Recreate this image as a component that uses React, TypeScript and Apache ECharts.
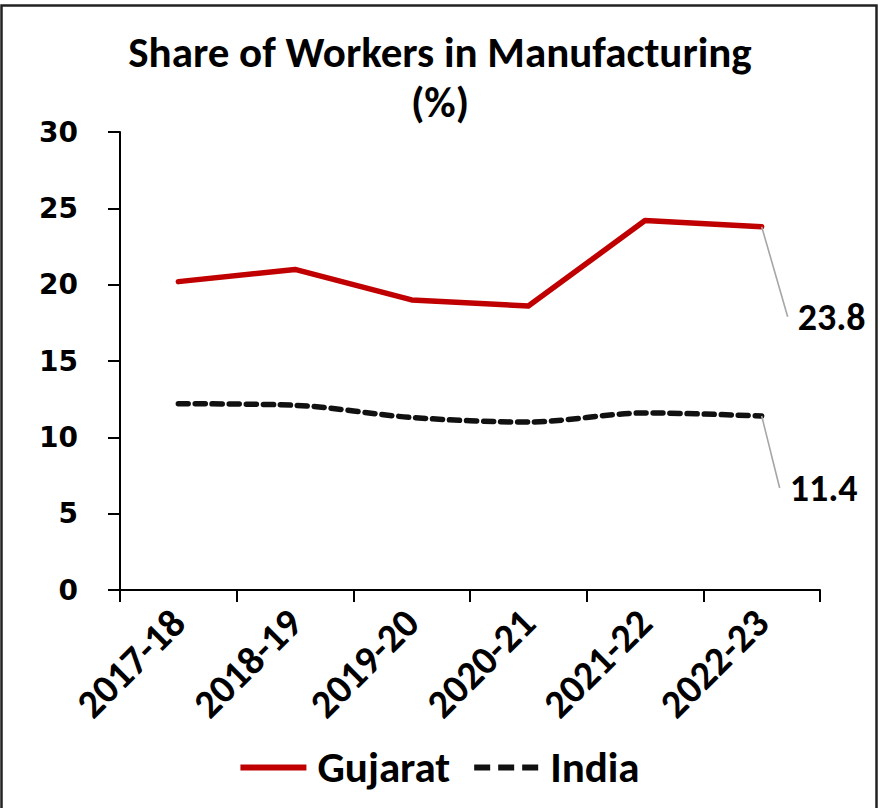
import React, { useEffect, useRef } from "react";
import * as echarts from "echarts";

const categories = ["2017-18", "2018-19", "2019-20", "2020-21", "2021-22", "2022-23"];
const gujarat = [20.2, 21.0, 19.0, 18.6, 24.2, 23.8];
const india = [12.2, 12.1, 11.3, 11.0, 11.6, 11.4];
const yTicks = { min: 0, max: 30, interval: 5 };

const FONT = "Carlito, Calibri, Lato, 'Open Sans', sans-serif";
const NUMFONT = "'DejaVu Sans', Verdana, sans-serif";

const lastIdx = categories.length - 1;

function endLabelSeries(name: string, values: number[], dx: number, dy: number) {
  return {
    name: name + " label",
    type: "scatter",
    symbol: "circle",
    symbolSize: 0,
    silent: true,
    itemStyle: { opacity: 1, color: "#000" },
    data: [[categories[lastIdx], values[lastIdx]]],
    label: {
      show: true,
      position: "right",
      distance: 0,
      padding: [0, 34, 0, 10],
      backgroundColor: "rgba(255,255,255,0)",
      formatter: (p: any) => Number(p.value[1]).toFixed(1),
      fontFamily: FONT,
      fontWeight: "bold",
      fontSize: 38,
      color: "#000",
      opacity: 1,
    },
    labelLine: { show: true, length2: 12, lineStyle: { color: "#A6A6A6", width: 1.6, opacity: 1 } },
    labelLayout: { dx, dy },
    z: 5,
  };
}

export default function App() {
  const ref = useRef<HTMLDivElement>(null);
  useEffect(() => {
    const chart = echarts.init(ref.current!, undefined, { renderer: "svg" });
    chart.setOption({
      animation: false,
      backgroundColor: "#fff",
      title: {
        text: "Share of Workers in Manufacturing\n(%)",
        left: "center",
        top: 22,
        textStyle: {
          fontFamily: FONT,
          fontWeight: "bold",
          fontSize: 43,
          lineHeight: 50,
          color: "#000",
        },
      },
      graphic: [
        {
          type: "rect",
          shape: { x: 1.5, y: 5.5, width: 875, height: 810 },
          style: { fill: "none", stroke: "#222", lineWidth: 2.5 },
          silent: true,
        },
      ],
      grid: { left: 120, right: 60, top: 132, bottom: 218 },
      xAxis: {
        type: "category",
        data: categories,
        boundaryGap: true,
        axisLine: { lineStyle: { color: "#000", width: 2 } },
        axisTick: { show: true, length: 12, inside: false, lineStyle: { color: "#000", width: 2 } },
        axisLabel: {
          rotate: 45,
          margin: 26,
          fontFamily: FONT,
          fontWeight: "bold",
          fontSize: 40,
          color: "#000",
        },
        splitLine: { show: false },
      },
      yAxis: {
        type: "value",
        min: yTicks.min,
        max: yTicks.max,
        interval: yTicks.interval,
        axisLine: { show: true, lineStyle: { color: "#000", width: 2 } },
        axisTick: { show: true, length: 12, lineStyle: { color: "#000", width: 2 } },
        axisLabel: {
          margin: 42,
          fontFamily: NUMFONT,
          fontWeight: "bold",
          fontSize: 28,
          color: "#000",
        },
        splitLine: { show: false },
      },
      legend: {
        bottom: 14,
        left: "center",
        itemWidth: 66,
        itemHeight: 6,
        itemGap: 24,
        textStyle: {
          fontFamily: FONT,
          fontWeight: "bold",
          fontSize: 43,
          color: "#000",
          padding: [0, 0, 0, 6],
        },
        data: [
          { name: "Gujarat", icon: "path://M0,0h66v6h-66z" },
          { name: "India", icon: "path://M0,0h16v6h-16z M24,0h16v6h-16z M48,0h16v6h-16z" },
        ],
      },
      series: [
        {
          name: "Gujarat",
          type: "line",
          data: gujarat,
          symbol: "none",
          lineStyle: { color: "#C00000", width: 5.5, cap: "round", join: "round" },
          itemStyle: { color: "#C00000" },
        },
        {
          name: "India",
          type: "line",
          data: india,
          symbol: "none",
          smooth: 0.3,
          lineStyle: { color: "#111", width: 5.5, type: [10, 7], cap: "round" },
          itemStyle: { color: "#111" },
        },
        endLabelSeries("Gujarat", gujarat, 26, 90),
        endLabelSeries("India", india, 18, 72),
      ],
    });
    return () => chart.dispose();
  }, []);
  return (
    <div style={{ position: "absolute", left: 0, top: 0, width: 880, height: 808 }}>
      <div ref={ref} style={{ width: 880, height: 808 }} />
    </div>
  );
}
